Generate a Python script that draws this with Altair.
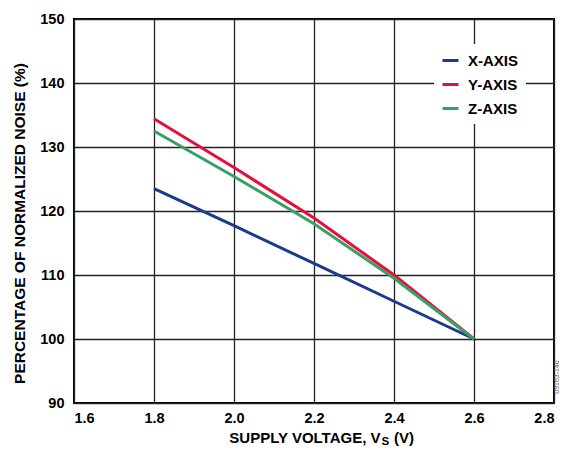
import altair as alt
import pandas as pd

voltage = [1.8, 2.0, 2.2, 2.4, 2.6]
x_axis = [123.5, 117.7, 111.8, 105.9, 100.0]
y_axis = [134.4, 126.8, 118.9, 110.0, 100.0]
z_axis = [132.5, 125.4, 118.0, 109.5, 100.0]
series = ["X-AXIS", "Y-AXIS", "Z-AXIS"]
colors = ["#1B3A8C", "#E3103B", "#3A9E66"]
x_ticks = [1.6, 1.8, 2.0, 2.2, 2.4, 2.6, 2.8]
y_ticks = [90, 100, 110, 120, 130, 140, 150]

rows = []
for name, vals in zip(series, [x_axis, y_axis, z_axis]):
    for v, n in zip(voltage, vals):
        rows.append({"v": v, "noise": n, "axis": name})
df = pd.DataFrame(rows)

FONT = "Liberation Sans"

lines = alt.Chart(df).mark_line(strokeWidth=3).encode(
    x=alt.X("v:Q", scale=alt.Scale(domain=[1.6, 2.8], nice=False),
            axis=alt.Axis(values=x_ticks, format=".1f", title=None)),
    y=alt.Y("noise:Q", scale=alt.Scale(domain=[90, 150], nice=False),
            axis=alt.Axis(values=y_ticks, format="d", titleY=204,
                          title="PERCENTAGE OF NORMALIZED NOISE (%)")),
    color=alt.Color("axis:N", scale=alt.Scale(domain=series, range=colors),
                    legend=alt.Legend(title=None, orient="none", legendX=360, legendY=25,
                                      fillColor="white", padding=7,
                                      symbolType="stroke", symbolSize=256,
                                      symbolStrokeWidth=3, labelFont=FONT,
                                      labelFontSize=15, labelFontWeight="bold",
                                      labelColor="black", rowPadding=6,
                                      labelOffset=8)),
)

t1 = alt.Chart(pd.DataFrame({"t": ["SUPPLY VOLTAGE, V"]})).mark_text(
    align="right", baseline="alphabetic", font=FONT, fontSize=15, fontWeight="bold",
    color="black").encode(text="t:N", x=alt.value(306.5), y=alt.value(423.5))
t2 = alt.Chart(pd.DataFrame({"t": ["S"]})).mark_text(
    align="left", baseline="alphabetic", font=FONT, fontSize=11.5, fontWeight="bold",
    color="black").encode(text="t:N", x=alt.value(307.5), y=alt.value(425.5))
t3 = alt.Chart(pd.DataFrame({"t": ["(V)"]})).mark_text(
    align="left", baseline="alphabetic", font=FONT, fontSize=15, fontWeight="bold",
    color="black").encode(text="t:N", x=alt.value(320), y=alt.value(423.5))
tid = alt.Chart(pd.DataFrame({"t": ["09163-140"]})).mark_text(
    align="center", baseline="middle", font=FONT, fontSize=7, angle=270,
    color="#555555").encode(text="t:N", x=alt.value(483), y=alt.value(358))

chart = alt.layer(lines, t1, t2, t3, tid).properties(
    width=480, height=384,
    autosize=alt.AutoSizeParams(type="none"),
    padding={"left": 66, "top": 11, "right": 5, "bottom": 43},
    background="white",
).configure_view(
    stroke="black", strokeWidth=2
).configure_axis(
    grid=True, gridColor="#222222", gridWidth=1.3, gridOpacity=1,
    domain=False, ticks=False,
    labelFont=FONT, labelFontSize=14.5, labelFontWeight="bold", labelColor="black",
    titleFont=FONT, titleFontSize=15.5, titleFontWeight="bold", titleColor="black",
).configure_axisY(
    labelPadding=10, titlePadding=12
).configure_axisX(
    labelPadding=8
)

chart.save("out.html", embed_options={"renderer": "svg", "actions": False})
